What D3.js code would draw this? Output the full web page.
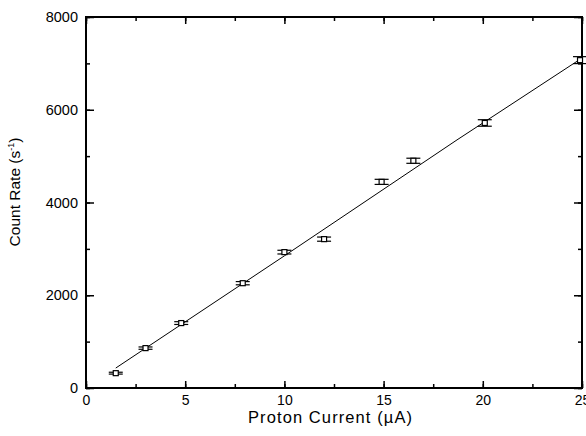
<!DOCTYPE html>
<html><head><meta charset="utf-8">
<script src="https://cdn.jsdelivr.net/npm/d3@7/dist/d3.min.js"></script>
<style>body{margin:0;background:#fff}svg{display:block}text{font-family:"Liberation Sans",Arial,sans-serif;fill:#000}</style>
</head><body>
<svg id="c" width="586" height="436"></svg>
<script>
const current = [1.5, 3.0, 4.8, 7.9, 10.0, 12.0, 14.9, 16.5, 20.1, 24.9];
const countRate = [320, 860, 1400, 2260, 2930, 3210, 4445, 4900, 5715, 7070];
const rateError = [20, 25, 30, 35, 40, 45, 55, 55, 70, 75];
const fitX = [1.5, 10, 18.7, 25];
const fitY = [430, 2850, 5350, 7115];
const xTicks = [0, 5, 10, 15, 20, 25];
const yTicks = [0, 2000, 4000, 6000, 8000];

const svg = d3.select("#c");
const L = 86, R = 582, T = 17, B = 388;
const x = d3.scaleLinear().domain([0, 25]).range([L, R]);
const y = d3.scaleLinear().domain([0, 8000]).range([B, T]);

const g = svg.append("g");
const xMinor = d3.range(0, 25.01, 2.5);
const yMinor = d3.range(0, 8001, 1000);
function styleAxis(sel){ sel.select(".domain").remove(); sel.selectAll("line").attr("stroke","#000").attr("stroke-width",1.5); }
g.append("g").attr("transform",`translate(0,${B})`).call(d3.axisBottom(x).tickValues(xMinor).tickSize(-4).tickFormat("")).call(styleAxis);
g.append("g").attr("transform",`translate(0,${B})`).call(d3.axisBottom(x).tickValues(xTicks).tickSize(-7).tickPadding(7).tickFormat(d3.format("d"))).call(styleAxis)
  .selectAll("text").attr("font-size",14);
g.append("g").attr("transform",`translate(0,${T})`).call(d3.axisTop(x).tickValues(xMinor).tickSize(-4).tickFormat("")).call(styleAxis);
g.append("g").attr("transform",`translate(0,${T})`).call(d3.axisTop(x).tickValues(xTicks).tickSize(-7).tickFormat("")).call(styleAxis);
g.append("g").attr("transform",`translate(${L},0)`).call(d3.axisLeft(y).tickValues(yMinor).tickSize(-4).tickFormat("")).call(styleAxis);
g.append("g").attr("transform",`translate(${L},0)`).call(d3.axisLeft(y).tickValues(yTicks).tickSize(-8).tickPadding(8).tickFormat(d3.format("d"))).call(styleAxis)
  .selectAll("text").attr("font-size",14.5);
g.append("g").attr("transform",`translate(${R},0)`).call(d3.axisRight(y).tickValues(yMinor).tickSize(-4).tickFormat("")).call(styleAxis);
g.append("g").attr("transform",`translate(${R},0)`).call(d3.axisRight(y).tickValues(yTicks).tickSize(-8).tickFormat("")).call(styleAxis);

svg.append("rect").attr("x",L).attr("y",T).attr("width",R-L).attr("height",B-T)
  .attr("fill","none").attr("stroke","#000").attr("stroke-width",2);

const line = d3.line().x((d,i)=>x(fitX[i])).y((d,i)=>y(fitY[i]));
svg.append("path").datum(fitX).attr("d",line).attr("fill","none").attr("stroke","#000").attr("stroke-width",1);

const pts = svg.append("g").selectAll("g").data(current).join("g");
pts.append("line").attr("x1",(d)=>x(d)).attr("x2",(d)=>x(d))
  .attr("y1",(d,i)=>y(countRate[i]-rateError[i])).attr("y2",(d,i)=>y(countRate[i]+rateError[i]))
  .attr("stroke","#000").attr("stroke-width",1);
[-1,1].forEach(s=>{
  pts.append("line").attr("x1",(d)=>x(d)-7).attr("x2",(d)=>x(d)+7)
    .attr("y1",(d,i)=>y(countRate[i]+s*rateError[i])).attr("y2",(d,i)=>y(countRate[i]+s*rateError[i]))
    .attr("stroke","#000").attr("stroke-width",1.2);
});
pts.append("rect").attr("x",(d)=>x(d)-2.5).attr("y",(d,i)=>y(countRate[i])-2.5)
  .attr("width",5).attr("height",5).attr("fill","#fff").attr("stroke","#000").attr("stroke-width",1.2);

svg.append("text").attr("x",248).attr("y",423).attr("font-size",16.5)
  .attr("textLength",164).attr("lengthAdjust","spacing")
  .text("Proton Current (\u00b5A)");
const yt = svg.append("text").attr("transform",`translate(20,192) rotate(-90)`).attr("text-anchor","middle").attr("font-size",15.5);
yt.append("tspan").text("Count Rate (s");
yt.append("tspan").attr("font-size",9).attr("dy",-6).text("-1");
yt.append("tspan").attr("dy",6).text(")");
</script>
</body></html>
